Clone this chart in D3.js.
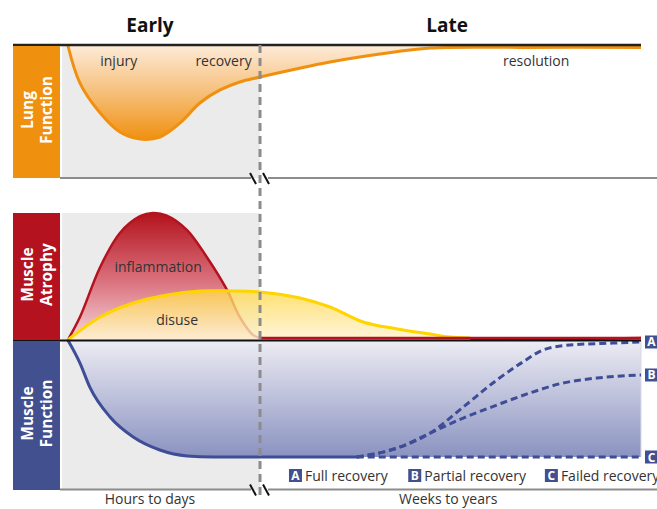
<!DOCTYPE html>
<html>
<head>
<meta charset="utf-8">
<script src="https://cdn.jsdelivr.net/npm/d3@7"></script>
<style>
  body { margin: 0; background: #fff; }
  svg text { font-family: "Open Sans", Lato, sans-serif; }
</style>
</head>
<body>
<div id="chart"></div>
<script>
// time index 0..100, early phase ends at breakT
const breakT = 34.2;
const phases = [{name: "Early", t: 15.2}, {name: "Late", t: 66.5}];
const axisLabels = [{name: "Hours to days", t: 15.2}, {name: "Weeks to years", t: 66.7}];

// lung function (% of normal)
const lungT = [1.0, 3.1, 6.6, 10.0, 13.5, 16.9, 20.4, 23.8, 27.3, 30.7, 34.2, 46.3, 54.9, 63.6, 80, 100];
const lungV = [100, 71.4, 48.9, 34.6, 29.3, 30.8, 41.4, 56.4, 66.2, 72.2, 75.9, 87.2, 93.2, 97.7, 98.2, 98.2];
const lungLabels = [{name: "injury", t: 9.8}, {name: "recovery", t: 27.9}, {name: "resolution", t: 81.9}];

// muscle atrophy drivers
const inflT = [1.0, 3.1, 6.6, 10.0, 13.5, 15.7, 18.1, 21.6, 25.0, 28.5, 30.7, 33.0, 34.5, 100];
const inflV = [0, 18.1, 57.5, 84.3, 97.5, 100, 98, 86.6, 65.4, 39.4, 18.1, 3.9, 1.6, 1.6];
const disuseT = [1.0, 6.6, 12.3, 18.1, 23.8, 29.5, 34.2, 41.1, 46.3, 52.0, 57.9, 63.6, 67.0, 70.5];
const disuseV = [0, 18.1, 29.1, 35.4, 38.6, 38.6, 37.8, 33.1, 26, 14.2, 8.7, 4.7, 2.4, 1.6];

// muscle function
const funcT = [1.0, 3.1, 4.8, 8.3, 12.3, 16.9, 21.6, 26.1, 51.0, 100];
const funcV = [100, 80.3, 59.8, 34.2, 17.1, 6, 0.9, 0, 0, 0];
const solidEndT = 51.0;
const recoveryA_T = [50.9, 57.9, 63.6, 69.3, 75.1, 79.6, 83.1, 87.7, 95.2, 100];
const recoveryA_V = [0, 7.7, 20.5, 42.7, 65.8, 81.2, 91.5, 95.7, 97.4, 98.3];
const recoveryB_T = [50.9, 57.9, 63.6, 69.3, 75.1, 80.8, 86.5, 92.4, 100];
const recoveryB_V = [0, 7.7, 20.5, 33.3, 44.4, 54.7, 63.2, 67.5, 70.1];
const recoveryC_T = [50.9, 100];
const recoveryC_V = [0, 0];
const outcomes = [
  {key: "A", name: "Full recovery", t: 39.2},
  {key: "B", name: "Partial recovery", t: 59.8},
  {key: "C", name: "Failed recovery", t: 83.4}
];

const width = 657, height = 509;
const svg = d3.select("#chart").append("svg")
  .attr("width", width).attr("height", height);

const x = d3.scaleLinear().domain([0, 100]).range([62, 641]);
const yLung = d3.scaleLinear().domain([0, 100]).range([178, 45]);
const yAtr = d3.scaleLinear().domain([0, 100]).range([340, 213]);
const yFun = d3.scaleLinear().domain([0, 100]).range([457, 340]);

const zip = (ts, vs) => ts.map((t, i) => ({t: t, v: vs[i]}));
const lungData = zip(lungT, lungV);
const inflData = zip(inflT, inflV);
const disuseData = zip(disuseT, disuseV);
const funcData = zip(funcT, funcV);

const orange = "#F0900F", red = "#B5121F", blue = "#43508F", lineBlue = "#3E4D96";
const gray = "#EBEBEB", axisGray = "#8C8C8C", textCol = "#333";
const smooth = d3.curveCatmullRom.alpha(0.5);

// gradients
const defs = svg.append("defs");
function grad(id, y1, y2, stops) {
  const g = defs.append("linearGradient").attr("id", id)
    .attr("gradientUnits", "userSpaceOnUse")
    .attr("x1", 0).attr("x2", 0).attr("y1", y1).attr("y2", y2);
  stops.forEach(s => g.append("stop").attr("offset", s[0]).attr("stop-color", s[1]));
}
grad("lungGrad", 45, 140, [[0, "#FDEBD8"], [0.5, "#F6BF7A"], [1, "#F0900F"]]);
grad("inflGrad", 213, 340, [[0, "#B3121C"], [0.55, "#DB7480"], [1, "#F6D6DA"]]);
grad("disuseGrad", 291, 340, [[0, "#FFD84A"], [1, "#FFF3D2"]]);
grad("funcGrad", 340, 457, [[0, "#EDEDF4"], [1, "#8A92C0"]]);

// early phase shading
[[45, 178], [213, 340], [340, 490]].forEach(r => {
  svg.append("rect").attr("x", x(0)).attr("y", r[0])
    .attr("width", x(breakT) - x(0)).attr("height", r[1] - r[0])
    .attr("fill", gray);
});

// ---- lung panel
svg.append("path").datum(lungData)
  .attr("fill", "url(#lungGrad)")
  .attr("d", d3.area().x(d => x(d.t)).y0(yLung(100)).y1(d => yLung(d.v)).curve(smooth));
svg.append("path").datum(lungData)
  .attr("fill", "none").attr("stroke", orange).attr("stroke-width", 3)
  .attr("d", d3.line().x(d => x(d.t)).y(d => yLung(d.v)).curve(smooth));

// ---- atrophy panel
svg.append("path").datum(inflData)
  .attr("fill", "url(#inflGrad)")
  .attr("d", d3.area().x(d => x(d.t)).y0(yAtr(0)).y1(d => yAtr(d.v)).curve(smooth));
svg.append("path").datum(inflData)
  .attr("fill", "none").attr("stroke", red).attr("stroke-width", 2.5)
  .attr("d", d3.line().x(d => x(d.t)).y(d => yAtr(d.v)).curve(smooth));
svg.append("path").datum(disuseData)
  .attr("fill", "url(#disuseGrad)").attr("fill-opacity", 0.78)
  .attr("d", d3.area().x(d => x(d.t)).y0(yAtr(0)).y1(d => yAtr(d.v)).curve(smooth));
svg.append("path").datum(disuseData)
  .attr("fill", "none").attr("stroke", "#FFD500").attr("stroke-width", 3)
  .attr("d", d3.line().x(d => x(d.t)).y(d => yAtr(d.v)).curve(smooth));
svg.append("line").attr("x1", x(breakT)).attr("x2", x(100))
  .attr("y1", yAtr(1.6)).attr("y2", yAtr(1.6))
  .attr("stroke", red).attr("stroke-width", 2.5);

// ---- muscle function panel
svg.append("path").datum(funcData)
  .attr("fill", "url(#funcGrad)")
  .attr("d", d3.area().x(d => x(d.t)).y0(yFun(100)).y1(d => yFun(d.v)).curve(d3.curveMonotoneX));
svg.append("line").attr("x1", x(100)).attr("x2", x(100))
  .attr("y1", yFun(100)).attr("y2", yFun(0))
  .attr("stroke", "#D8DAE6").attr("stroke-width", 1);
svg.append("path").datum(funcData.filter(d => d.t <= solidEndT))
  .attr("fill", "none").attr("stroke", lineBlue).attr("stroke-width", 3)
  .attr("d", d3.line().x(d => x(d.t)).y(d => yFun(d.v)).curve(d3.curveMonotoneX));
[[recoveryA_T, recoveryA_V], [recoveryB_T, recoveryB_V], [recoveryC_T, recoveryC_V]].forEach(s => {
  svg.append("path").datum(zip(s[0], s[1]))
    .attr("fill", "none").attr("stroke", lineBlue).attr("stroke-width", 3)
    .attr("stroke-dasharray", "7,4")
    .attr("d", d3.line().x(d => x(d.t)).y(d => yFun(d.v)).curve(d3.curveMonotoneX));
});

// frame lines
svg.append("line").attr("x1", 13).attr("x2", x(100)).attr("y1", 45).attr("y2", 45)
  .attr("stroke", "#222").attr("stroke-width", 2.5);
svg.append("line").attr("x1", 13).attr("x2", x(100)).attr("y1", 340.5).attr("y2", 340.5)
  .attr("stroke", "#111").attr("stroke-width", 2);
[178, 489.5].forEach(yy => {
  svg.append("line").attr("x1", 60).attr("x2", x(breakT) - 9).attr("y1", yy).attr("y2", yy)
    .attr("stroke", axisGray).attr("stroke-width", 2);
  svg.append("line").attr("x1", x(breakT) + 8).attr("x2", width).attr("y1", yy).attr("y2", yy)
    .attr("stroke", axisGray).attr("stroke-width", 2);
});

// phase divider
svg.append("line").attr("x1", x(breakT)).attr("x2", x(breakT))
  .attr("y1", 45).attr("y2", 496)
  .attr("stroke", axisGray).attr("stroke-width", 3).attr("stroke-dasharray", "8,5");

// axis break marks
[178, 489.5].forEach(yy => {
  [-7, 6].forEach(dx => {
    svg.append("line")
      .attr("x1", x(breakT) + dx - 3).attr("y1", yy - 5)
      .attr("x2", x(breakT) + dx + 3).attr("y2", yy + 6)
      .attr("stroke", "#111").attr("stroke-width", 2);
  });
});

// panel label boxes
const panels = [
  {lines: ["Lung", "Function"], y0: 46, y1: 178, fill: orange},
  {lines: ["Muscle", "Atrophy"], y0: 213, y1: 340, fill: red},
  {lines: ["Muscle", "Function"], y0: 341, y1: 490, fill: blue}
];
panels.forEach(p => {
  svg.append("rect").attr("x", 13).attr("y", p.y0).attr("width", 47)
    .attr("height", p.y1 - p.y0).attr("fill", p.fill);
  const cy = (p.y0 + p.y1) / 2 - 2;
  const txt = svg.append("text")
    .attr("transform", `translate(37,${cy}) rotate(-90)`)
    .attr("text-anchor", "middle").attr("fill", "#fff")
    .attr("font-weight", "bold").attr("font-size", 15.5);
  txt.append("tspan").attr("x", 0).attr("y", -4).text(p.lines[0]);
  txt.append("tspan").attr("x", 0).attr("y", 15).text(p.lines[1]);
});

// titles and labels
phases.forEach(p => {
  svg.append("text").attr("x", x(p.t)).attr("y", 32).attr("text-anchor", "middle")
    .attr("font-size", 19).attr("font-weight", "bold").attr("fill", "#111").text(p.name);
});
axisLabels.forEach(p => {
  svg.append("text").attr("x", x(p.t)).attr("y", 504).attr("text-anchor", "middle")
    .attr("font-size", 14).attr("fill", textCol).text(p.name);
});
lungLabels.forEach(p => {
  svg.append("text").attr("x", x(p.t)).attr("y", 66).attr("text-anchor", "middle")
    .attr("font-size", 14).attr("fill", textCol).text(p.name);
});
svg.append("text").attr("x", x(16.6)).attr("y", 272).attr("text-anchor", "middle")
  .attr("font-size", 14).attr("fill", textCol).text("inflammation");
svg.append("text").attr("x", x(19.9)).attr("y", 325).attr("text-anchor", "middle")
  .attr("font-size", 14).attr("fill", textCol).text("disuse");

// legend
outcomes.forEach(o => {
  const g = svg.append("g").attr("transform", `translate(${x(o.t)},469)`);
  g.append("rect").attr("width", 13).attr("height", 13).attr("fill", blue);
  g.append("text").attr("x", 6.5).attr("y", 11).attr("text-anchor", "middle")
    .attr("font-size", 12).attr("font-weight", "bold").attr("fill", "#fff").text(o.key);
  g.append("text").attr("x", 16).attr("y", 12).attr("font-size", 14)
    .attr("fill", textCol).text(o.name);
});

// end labels A/B/C
const ends = [
  {key: "A", v: recoveryA_V[recoveryA_V.length - 1]},
  {key: "B", v: recoveryB_V[recoveryB_V.length - 1]},
  {key: "C", v: recoveryC_V[recoveryC_V.length - 1]}
];
ends.forEach(e => {
  const g = svg.append("g").attr("transform", `translate(645,${yFun(e.v) - 6.5})`);
  g.append("rect").attr("width", 14).attr("height", 13).attr("fill", blue);
  g.append("text").attr("x", 6.5).attr("y", 11).attr("text-anchor", "middle")
    .attr("font-size", 12).attr("font-weight", "bold").attr("fill", "#fff").text(e.key);
});
</script>
</body>
</html>
